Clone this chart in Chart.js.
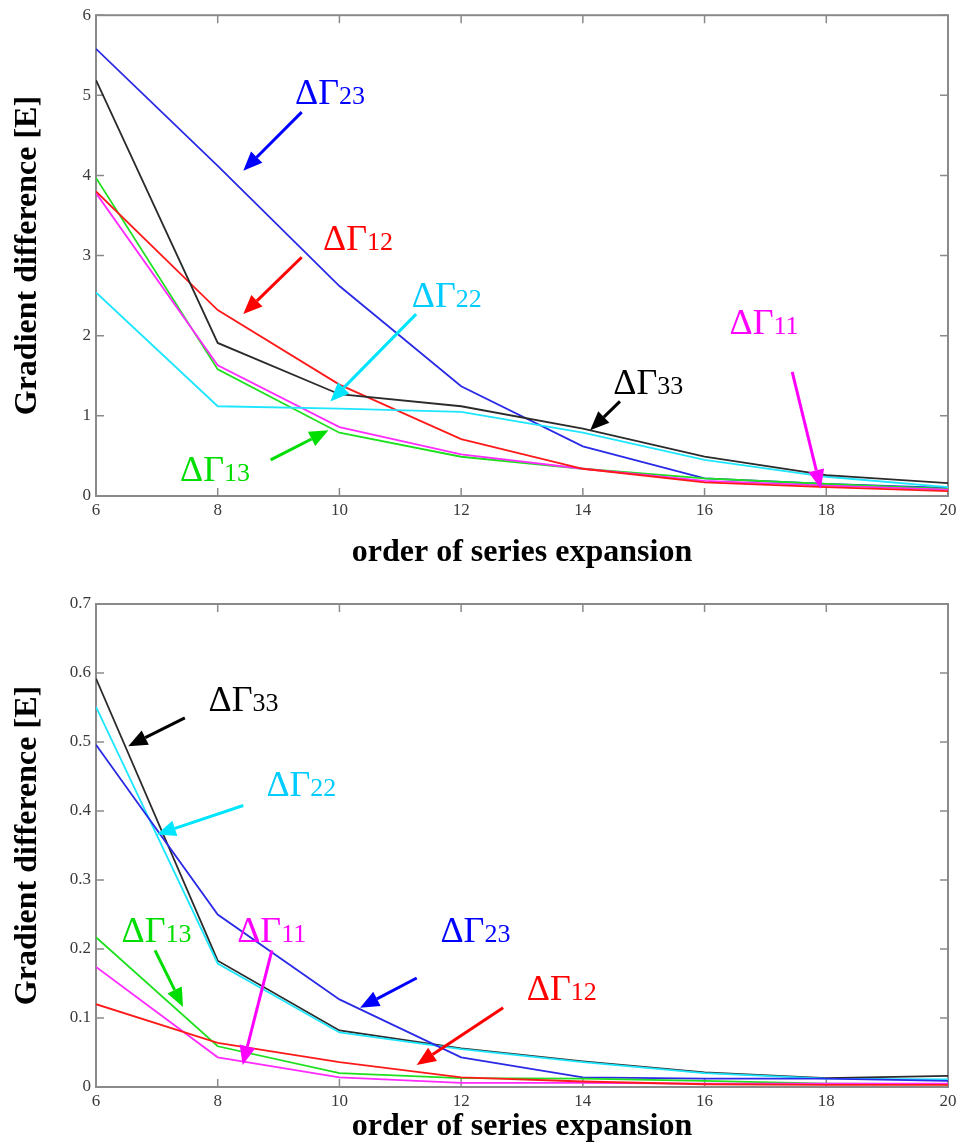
<!DOCTYPE html>
<html>
<head>
<meta charset="utf-8">
<script src="https://cdn.jsdelivr.net/npm/chart.js@4.4.1/dist/chart.umd.min.js"></script>
<style>
    html, body { margin: 0; padding: 0; background: #fff; }
    .panel { position: absolute; left: 0; width: 961px; }
    #panelTop { top: 0; height: 575px; }
    #panelBottom { top: 575px; height: 572px; }
</style>
</head>
<body>
<div class="panel" id="panelTop"><canvas id="chartTop"></canvas></div>
<div class="panel" id="panelBottom"><canvas id="chartBottom"></canvas></div>
<script>

// order of series expansion
const order = [6, 8, 10, 12, 14, 16, 18, 20]

// upper panel values
const top11 = [3.78, 1.63, 0.86, 0.52, 0.34, 0.19, 0.13, 0.08]
const top12 = [3.80, 2.32, 1.39, 0.71, 0.34, 0.17, 0.11, 0.06]
const top13 = [3.97, 1.58, 0.79, 0.49, 0.34, 0.22, 0.15, 0.09]
const top22 = [2.54, 1.12, 1.09, 1.05, 0.79, 0.45, 0.24, 0.11]
const top23 = [5.58, 4.12, 2.62, 1.37, 0.62, 0.22, 0.15, 0.10]
const top33 = [5.19, 1.91, 1.27, 1.12, 0.84, 0.49, 0.26, 0.16]

// lower panel values
const bot11 = [0.174, 0.043, 0.014, 0.006, 0.006, 0.005, 0.005, 0.005]
const bot12 = [0.120, 0.064, 0.036, 0.014, 0.008, 0.004, 0.003, 0.003]
const bot13 = [0.217, 0.059, 0.020, 0.013, 0.012, 0.009, 0.005, 0.004]
const bot22 = [0.551, 0.179, 0.079, 0.055, 0.036, 0.020, 0.012, 0.011]
const bot23 = [0.496, 0.250, 0.127, 0.043, 0.014, 0.012, 0.012, 0.009]
const bot33 = [0.592, 0.183, 0.082, 0.056, 0.037, 0.021, 0.013, 0.016]

// axis ranges
const xRange = [6, 20, 2]
const topYRange = [0, 6, 1]
const botYRange = [0, 0.7, 0.1]

const xTitle = 'order of series expansion'
const yTitle = 'Gradient difference [E]'

// line colours
const lineColor = {
    '11': '#ff2bff',
    '12': '#ff1a1a',
    '13': '#1ee01e',
    '22': '#1ee6ff',
    '23': '#2a2ae6',
    '33': '#2b2b2b',
}

// label colours
const textColor = {
    '11': '#ff00ff',
    '12': '#ff0000',
    '13': '#00dd00',
    '22': '#00ccff',
    '23': '#0000ff',
    '33': '#000000',
}

// arrow colours
const arrowColor = {
    '11': '#ff00ff',
    '12': '#ff0000',
    '13': '#00dd00',
    '22': '#00e5ff',
    '23': '#0000ff',
    '33': '#000000',
}

// labels with arrows, in data units: text at (x, y), arrow from -> to
const topNotes = [
    { id: '23', x: 9.27, y: 5.04, from: [9.38, 4.79], to: [8.42, 4.06] },
    { id: '12', x: 9.73, y: 3.22, from: [9.38, 2.98], to: [8.42, 2.27] },
    { id: '22', x: 11.19, y: 2.51, from: [11.26, 2.27], to: [9.85, 1.18] },
    { id: '13', x: 7.38, y: 0.34, from: [8.87, 0.45], to: [9.82, 0.82] },
    { id: '33', x: 14.5, y: 1.42, from: [14.61, 1.18], to: [14.12, 0.82] },
    { id: '11', x: 16.41, y: 2.17, from: [17.44, 1.55], to: [17.91, 0.09] },
]

const botNotes = [
    { id: '33', x: 7.85, y: 0.562, from: [7.46, 0.535], to: [6.53, 0.494] },
    { id: '22', x: 8.80, y: 0.439, from: [8.42, 0.408], to: [7.0, 0.366] },
    { id: '13', x: 6.42, y: 0.228, from: [6.97, 0.198], to: [7.43, 0.116] },
    { id: '11', x: 8.32, y: 0.228, from: [8.89, 0.198], to: [8.41, 0.032] },
    { id: '23', x: 11.66, y: 0.228, from: [11.27, 0.158], to: [10.34, 0.115] },
    { id: '12', x: 13.08, y: 0.144, from: [12.69, 0.115], to: [11.27, 0.032] },
]

const serif = '"Liberation Serif", "Times New Roman", serif'


// Build datasets for one panel
const makeDatasets = (series) => {
    return series.map(([id, values]) => ({
        label: 'ΔΓ' + id,
        data: order.map((x, i) => ({ x, y: values[i] })),
        borderColor: lineColor[id],
        borderWidth: 1.8,
        pointRadius: 0,
        tension: 0,
        fill: false,
    }))
}

// Frame and inward ticks (matlab style)
const framePlugin = {
    id: 'frame',
    beforeDatasetsDraw(chart) {
        const { ctx, chartArea: a, scales } = chart
        const len = 8
        ctx.save()
        ctx.strokeStyle = '#8a8a8a'
        ctx.lineWidth = 1.5

        // ticks
        ctx.beginPath()
        for (const t of scales.x.ticks) {
            const px = scales.x.getPixelForValue(t.value)
            ctx.moveTo(px, a.bottom); ctx.lineTo(px, a.bottom - len)
            ctx.moveTo(px, a.top); ctx.lineTo(px, a.top + len)
        }
        for (const t of scales.y.ticks) {
            const py = scales.y.getPixelForValue(t.value)
            ctx.moveTo(a.left, py); ctx.lineTo(a.left + len, py)
            ctx.moveTo(a.right, py); ctx.lineTo(a.right - len, py)
        }
        ctx.stroke()

        // box
        ctx.lineWidth = 2
        ctx.strokeRect(a.left, a.top, a.right - a.left, a.bottom - a.top)
        ctx.restore()
    }
}

// Arrow with filled head
const drawArrow = (ctx, x0, y0, x1, y1, color) => {
    const ang = Math.atan2(y1 - y0, x1 - x0)
    const head = 19, half = 8
    const bx = x1 - head * Math.cos(ang)
    const by = y1 - head * Math.sin(ang)

    ctx.strokeStyle = color
    ctx.fillStyle = color
    ctx.lineWidth = 3
    ctx.beginPath()
    ctx.moveTo(x0, y0)
    ctx.lineTo(bx, by)
    ctx.stroke()

    ctx.beginPath()
    ctx.moveTo(x1, y1)
    ctx.lineTo(bx + half * Math.sin(ang), by - half * Math.cos(ang))
    ctx.lineTo(bx - half * Math.sin(ang), by + half * Math.cos(ang))
    ctx.closePath()
    ctx.fill()
}

// Draw the ΔΓ labels and their arrows
const notesPlugin = {
    id: 'notes',
    afterDatasetsDraw(chart, args, opts) {
        const { ctx, scales } = chart
        ctx.save()
        for (const n of opts.items || []) {
            const x = scales.x.getPixelForValue(n.x)
            const y = scales.y.getPixelForValue(n.y)

            // text: big ΔΓ, smaller index on the same baseline
            ctx.fillStyle = textColor[n.id]
            ctx.textBaseline = 'alphabetic'
            ctx.textAlign = 'left'
            ctx.font = `36px ${serif}`
            const base = y + 12
            ctx.fillText('ΔΓ', x, base)
            const w = ctx.measureText('ΔΓ').width
            ctx.font = `26px ${serif}`
            ctx.fillText(n.id, x + w, base)

            // arrow
            drawArrow(ctx,
                scales.x.getPixelForValue(n.from[0]), scales.y.getPixelForValue(n.from[1]),
                scales.x.getPixelForValue(n.to[0]), scales.y.getPixelForValue(n.to[1]),
                arrowColor[n.id])
        }
        ctx.restore()
    }
}

// Create one panel
const createChart = (canvasId, series, yRange, notes, layout) => {
    const tickFont = { family: serif, size: 17 }
    const titleFont = { family: serif, size: 32, weight: 'bold' }

    return new Chart(document.getElementById(canvasId), {
        type: 'line',
        data: { datasets: makeDatasets(series) },
        options: {
            animation: false,
            responsive: true,
            maintainAspectRatio: false,
            devicePixelRatio: 1,
            layout: { padding: { top: layout.top, right: 13, left: 0, bottom: 0 } },
            plugins: {
                legend: { display: false },
                tooltip: { enabled: false },
                notes: { items: notes },
            },
            scales: {
                x: {
                    type: 'linear',
                    min: xRange[0],
                    max: xRange[1],
                    grid: { display: false, drawTicks: false },
                    border: { display: false },
                    ticks: { stepSize: xRange[2], font: tickFont, color: '#3a3a3a', padding: 4, maxRotation: 0 },
                    title: { display: true, text: xTitle, font: titleFont, color: '#000', padding: { top: 0, bottom: layout.titlePad } },
                    afterFit: (s) => { s.height = layout.xHeight },
                },
                y: {
                    type: 'linear',
                    min: yRange[0],
                    max: yRange[1],
                    grid: { display: false, drawTicks: false },
                    border: { display: false },
                    ticks: { stepSize: yRange[2], font: tickFont, color: '#3a3a3a', padding: 5 },
                    title: { display: true, text: yTitle, font: titleFont, color: '#000', padding: { top: 9, bottom: 0 } },
                    afterFit: (s) => { s.width = 96 },
                },
            },
        },
        plugins: [framePlugin, notesPlugin],
    })
}



// Upper panel
createChart('chartTop', [
    ['33', top33], ['22', top22], ['12', top12], ['11', top11], ['13', top13], ['23', top23],
], topYRange, topNotes, { top: 15, xHeight: 79, titlePad: 3 })

// Lower panel
createChart('chartBottom', [
    ['12', bot12], ['11', bot11], ['13', bot13], ['23', bot23], ['22', bot22], ['33', bot33],
], botYRange, botNotes, { top: 29, xHeight: 60, titlePad: 1 })

</script>
</body>
</html>
